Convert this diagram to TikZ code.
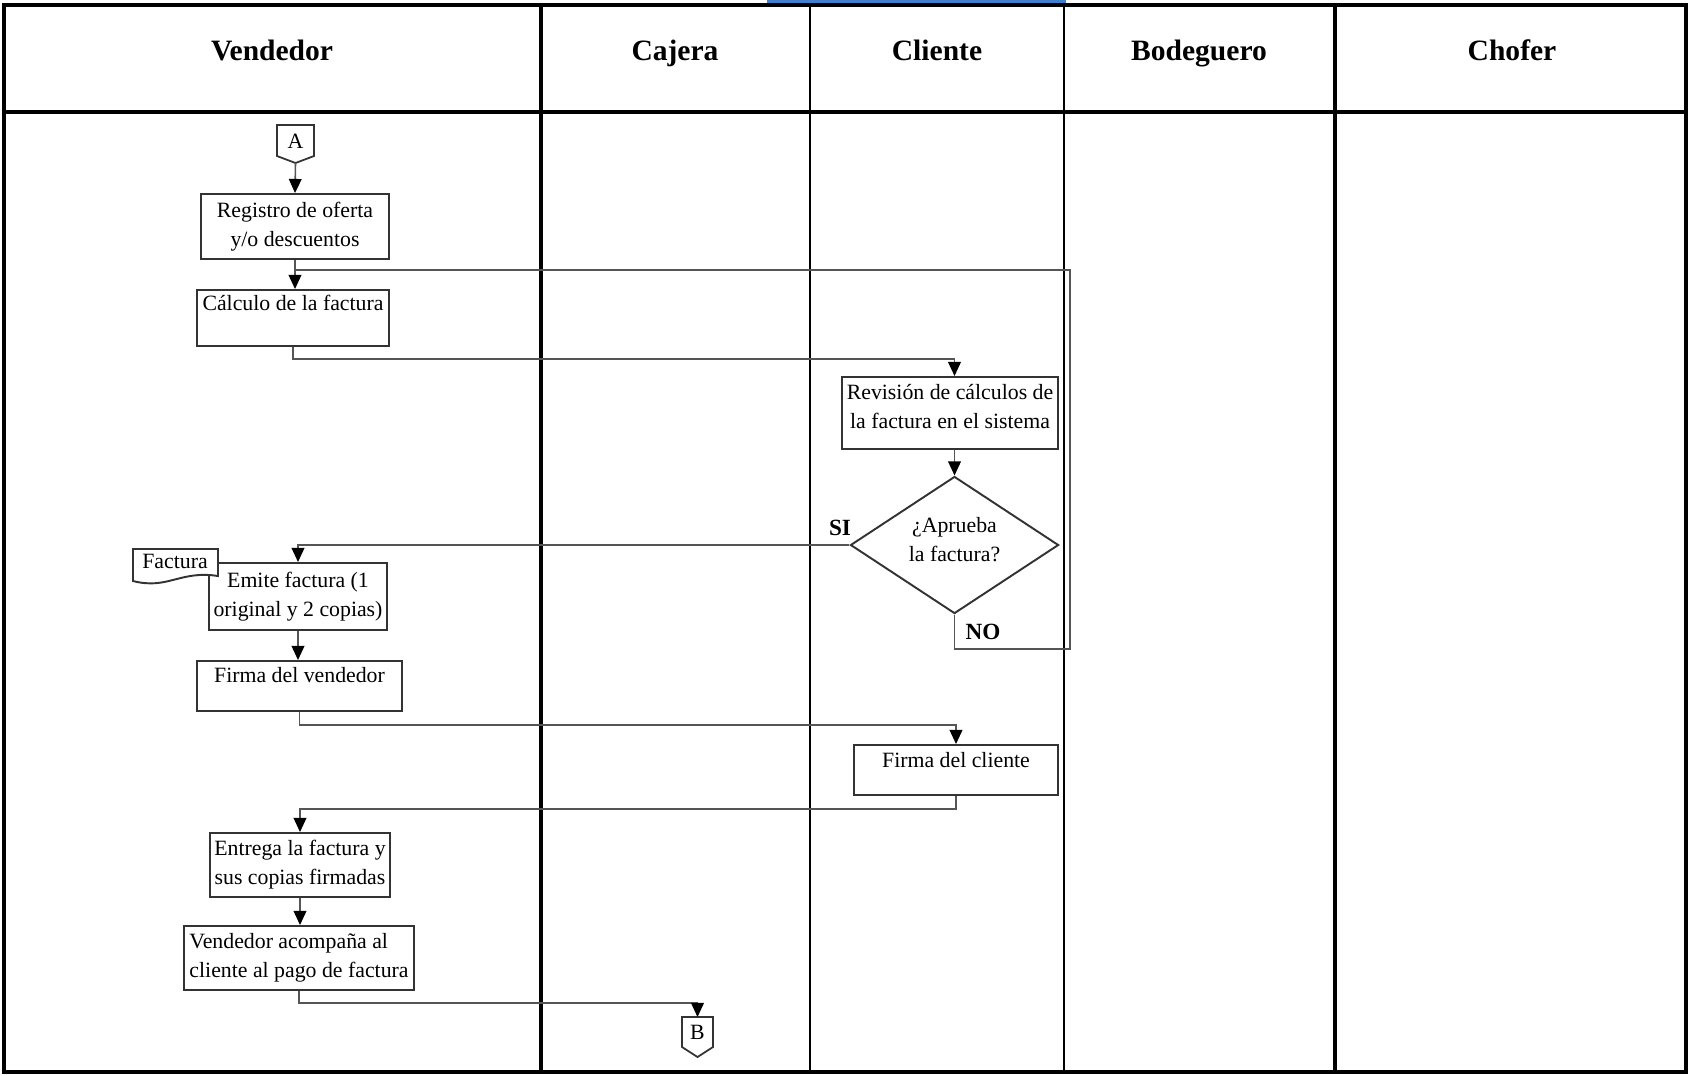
\documentclass[tikz,border=0pt]{standalone}
\usepackage{fontspec}
\setmainfont{Liberation Serif}
\usetikzlibrary{arrows.meta,shapes.geometric,calc}
\definecolor{boxgray}{HTML}{333333}
\definecolor{linegray}{HTML}{555555}
\definecolor{selblue}{HTML}{3F7FCC}
\begin{document}
\begin{tikzpicture}[x=0.01cm,y=-0.01cm,
  proc/.style={draw=boxgray, line width=0.55pt, fill=white, inner sep=0pt,
    font=\fontsize{6.2}{8.25}\selectfont, align=center},
  txt/.style={font=\fontsize{6.2}{8.25}\selectfont, align=center, inner sep=0pt},
  lane/.style={font=\bfseries\fontsize{8.4}{10}\selectfont, inner sep=0pt, anchor=base},
  tag/.style={font=\bfseries\fontsize{6.6}{8}\selectfont, inner sep=0pt},
  flow/.style={draw=linegray, line width=0.45pt,
    -{Triangle[length=4pt,width=3.6pt,color=black]}},
  plain/.style={draw=linegray, line width=0.45pt},
  offpage/.style={draw=boxgray, line width=0.5pt, fill=white}
]
\useasboundingbox (0,0) rectangle (1689,1075);

% selection mark above the frame
\draw[selblue, line width=1pt] (767,1) -- (1066,1);

% swimlane frame
\draw[line width=1.2pt] (4,5) rectangle (1686,1072);
\draw[line width=1.4pt] (4,112) -- (1686,112);
\draw[line width=1.1pt] (541,5) -- (541,1072);
\draw[line width=0.6pt] (810,5) -- (810,1072);
\draw[line width=0.6pt] (1064,5) -- (1064,1072);
\draw[line width=1.0pt] (1335,5) -- (1335,1072);

% lane titles
\node[lane] (hVend) at (272,60) {Vendedor};
\node[lane] (hCaj)  at (675,60) {Cajera};
\node[lane] (hCli)  at (937,60) {Cliente};
\node[lane] (hBod)  at (1199,60) {Bodeguero};
\node[lane] (hCho)  at (1512,60) {Chofer};

% off-page connector A
\draw[offpage] (277,125) -- (314,125) -- (314,156) -- (295.5,163) -- (277,156) -- cycle;
\node[txt] (A) at (295.5,141) {A};
\coordinate (Atip) at (295.5,163);

% process boxes
\node[proc, minimum width=1.87cm, minimum height=0.65cm] (reg) at (295,226.5)
  {Registro de oferta\\y/o descuentos};
\node[proc, minimum width=1.92cm, minimum height=0.56cm,
  label={[txt,name=calcT,anchor=north,yshift=-1.5pt]north:Cálculo de la factura}]
  (calc) at (293,318) {};
\node[proc, minimum width=2.15cm, minimum height=0.72cm,
  label={[txt,name=revT,yshift=1.8pt]center:Revisión de cálculos de\\la factura en el sistema}]
  (rev) at (950,413) {};
\node[draw=boxgray, line width=0.55pt, diamond, minimum width=2.08cm,
  minimum height=1.37cm, inner sep=0pt,
  label={[txt,name=decT,yshift=1.5pt]center:¿Aprueba\\la factura?}]
  (dec) at (954.5,545) {};
\node[tag] (si) at (840,528) {SI};
\node[tag] (no) at (983,632) {NO};

\node[proc, minimum width=1.78cm, minimum height=0.67cm] (emite) at (298,596.5)
  {Emite factura (1\\original y 2 copias)};
\node[proc, minimum width=2.05cm, minimum height=0.50cm,
  label={[txt,name=firmavT,anchor=north,yshift=-1.9pt]north:Firma del vendedor}]
  (firmav) at (299.5,686) {};
\node[proc, minimum width=2.04cm, minimum height=0.50cm,
  label={[txt,name=firmacT,anchor=north,yshift=-2.1pt]north:Firma del cliente}]
  (firmac) at (956,770) {};
\node[proc, minimum width=1.80cm, minimum height=0.64cm] (entrega) at (300,865)
  {Entrega la factura y\\sus copias firmadas};
\node[proc, minimum width=2.30cm, minimum height=0.64cm, align=left] (acomp) at (299,958)
  {Vendedor acompaña al\\cliente al pago de factura};

% document symbol
\draw[draw=boxgray, line width=0.55pt, fill=white]
  (133,549) -- (218,549) -- (218,576)
  .. controls (180,570) and (168,590) .. (133,581) -- cycle;
\node[txt] (fact) at (175,561) {Factura};

% off-page connector B
\draw[offpage] (682,1017) -- (713,1017) -- (713,1047) -- (697.5,1057) -- (682,1047) -- cycle;
\node[txt] (B) at (697.5,1032) {B};
\coordinate (Btop) at (697.5,1017);

% flow
\coordinate (merge) at (295,270);
\coordinate (loopR) at (1070,649);
\draw[flow] (Atip) -- (reg.north);
\draw[flow] (reg.south) -- (reg.south |- calc.north);
\draw[flow] (calc.south) -- ++(0,12) -| (rev.north -| dec.north);
\draw[flow] (rev.south -| dec.north) -- (dec.north);
\draw[plain] (dec.south) |- (loopR) |- (merge);
\draw[flow] (dec.west) -| (emite.north);
\draw[flow] (emite.south) -- (emite.south |- firmav.north);
\draw[flow] (firmav.south) -- ++(0,13) -| (firmac.north);
\draw[flow] (firmac.south) -- ++(0,13) -| (entrega.north);
\draw[flow] (entrega.south) -- (entrega.south |- acomp.north);
\draw[flow] (acomp.south) -- ++(0,12) -| (Btop);
\end{tikzpicture}
\end{document}
